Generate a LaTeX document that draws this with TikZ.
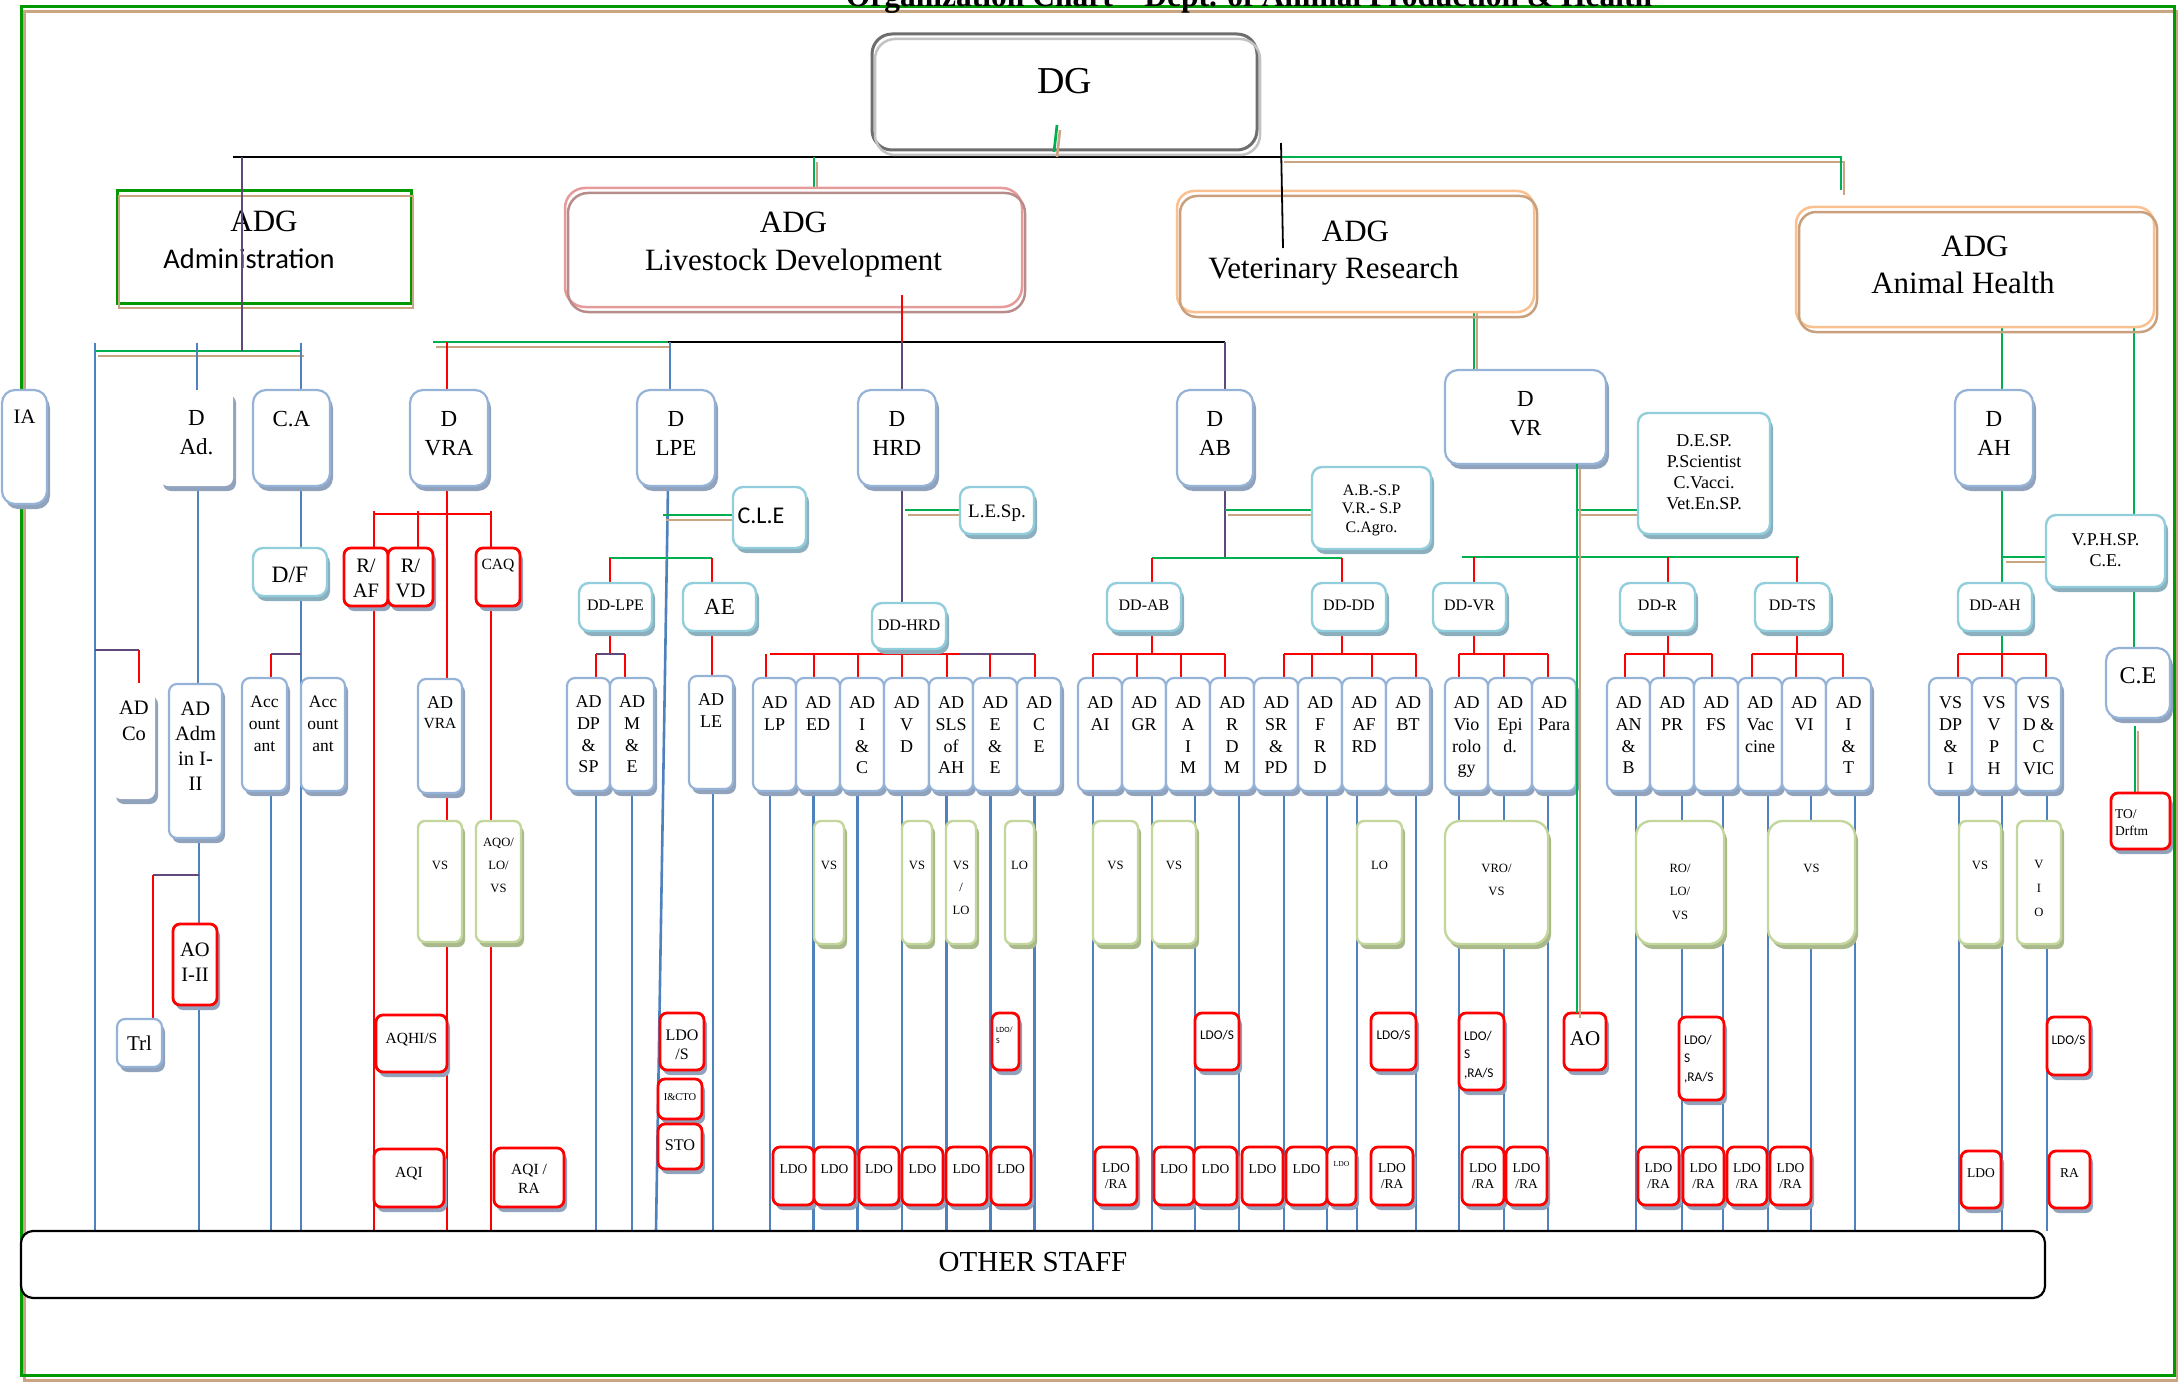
\documentclass[tikz,border=0pt]{standalone}
\usepackage{fontspec}
\setmainfont{Liberation Serif}
\newfontfamily\sansf{Carlito}
\usetikzlibrary{shadows,backgrounds,calc}
\definecolor{bbox}{RGB}{149,179,215}
\definecolor{bsh}{RGB}{145,162,188}
\definecolor{cbox}{RGB}{146,205,220}
\definecolor{csh}{RGB}{140,175,190}
\definecolor{gbox}{RGB}{195,214,155}
\definecolor{gsh}{RGB}{170,185,140}
\definecolor{blin}{RGB}{79,129,189}
\definecolor{plin}{RGB}{96,73,122}
\definecolor{glin}{RGB}{0,176,80}
\definecolor{gfr}{RGB}{0,153,0}
\definecolor{tanc}{RGB}{201,165,130}
\definecolor{pinko}{RGB}{230,155,155}
\definecolor{pinki}{RGB}{185,140,140}
\definecolor{orno}{RGB}{250,192,144}
\definecolor{orni}{RGB}{200,160,125}
\definecolor{dgo}{RGB}{110,110,110}
\definecolor{dgi}{RGB}{195,195,195}
\newcommand\fz[2]{\fontsize{#1}{#2}\selectfont}
\newcommand\Bx[8]{\node[#1,anchor=north west,inner sep=0pt,outer sep=0pt] (#2) at (#3,#4) {\parbox[c][#6pt][t]{#5pt}{\centering\vspace*{#7pt}#8\par}};}
\newcommand\gline[1]{\begin{scope}[transform canvas={shift={(3pt,-5pt)}}]\draw[tl] #1;\end{scope}\draw[gl] #1;}
\tikzset{
 shb/.style={drop shadow={shadow xshift=3pt,shadow yshift=-5pt,fill=bsh,opacity=1}},
 shc/.style={drop shadow={shadow xshift=3pt,shadow yshift=-5pt,fill=csh,opacity=1}},
 shg/.style={drop shadow={shadow xshift=3pt,shadow yshift=-5pt,fill=gsh,opacity=1}},
 bx/.style={draw=bbox,line width=2.2pt,fill=white,rounded corners=8pt,shb},
 dbx/.style={draw=bbox,line width=2.2pt,fill=white,rounded corners=13pt,shb},
 nbx/.style={draw=none,fill=white,rounded corners=8pt,shb},
 cbx/.style={draw=cbox,line width=2.4pt,fill=white,rounded corners=10pt,shc},
 rbx/.style={draw=red,line width=2.8pt,fill=white,rounded corners=7pt,shb},
 gbx/.style={draw=gbox,line width=2.4pt,fill=white,rounded corners=7pt,shg},
 ad/.style={bx,font=\fz{18}{21.7}},
 dd/.style={cbx,font=\fz{16}{19}},
 ld/.style={rbx,font=\fz{13.5}{16}},
 ls/.style={rbx,font=\sansf\fz{13.3}{18.5}},
 gv/.style={gbx,font=\fz{12.6}{23}},
 gvw/.style={gbx,rounded corners=15pt,font=\fz{12.6}{23.5}},
 dgb/.style={draw=dgo,line width=3pt,rounded corners=20pt,fill=white,font=\fz{38}{45}},
 adminb/.style={draw=gfr,line width=3pt,fill=white,font=\fz{31}{37}},
 adglb/.style={draw=pinko,line width=2.5pt,rounded corners=20pt,fill=white,font=\fz{31}{38}},
 adgob/.style={draw=orno,line width=2.5pt,rounded corners=17pt,fill=white,font=\fz{31}{37}},
 ostb/.style={draw=black,line width=2.2pt,rounded corners=12pt,fill=white,font=\fz{29}{34}},
 bl/.style={draw=blin,line width=2.6pt},
 rl/.style={draw=red,line width=2.7pt},
 pl/.style={draw=plin,line width=2.4pt},
 gl/.style={draw=glin,line width=2.7pt},
 tl/.style={draw=tanc,line width=2.6pt},
 kl/.style={draw=black,line width=2.4pt}
}
\begin{document}
\begin{tikzpicture}[x=1pt,y=-1pt]
\useasboundingbox (0,0) rectangle (2178,1383);
\clip (0,0) rectangle (2178,1383);
\node[font=\bfseries\fz{31.5}{32},anchor=base,inner sep=0pt] (title) at (1249,7) {Organization Chart – Dept. of Animal Production \& Health};
% ---------- top level
\Bx{dgb}{dg}{872}{34}{385}{116}{34.5}{DG}
\draw[dgi,line width=2.5pt,rounded corners=20pt] ([shift={(3,5)}]dg.north west) rectangle ([shift={(3,5)}]dg.south east);
\Bx{adminb}{adgad}{117}{191}{294}{112}{20}{ADG\\\hspace*{-30pt}{\sansf\fz{28.5}{37}Administration}}
\draw[tanc,line width=2.5pt] ([shift={(2,5)}]adgad.north west) rectangle ([shift={(2,5)}]adgad.south east);
\Bx{adglb}{adglv}{565}{188}{457}{119}{24}{ADG\\Livestock Development}
\draw[pinki,line width=2.5pt,rounded corners=20pt] ([shift={(3,5)}]adglv.north west) rectangle ([shift={(3,5)}]adglv.south east);
\Bx{adgob}{adgvr}{1177}{191}{357}{121}{30}{ADG\\\hspace*{-44pt}Veterinary Research}
\draw[orni,line width=2.5pt,rounded corners=17pt] ([shift={(3,5)}]adgvr.north west) rectangle ([shift={(3,5)}]adgvr.south east);
\Bx{adgob}{adgah}{1796}{207}{358}{120}{29}{ADG\\\hspace*{-24pt}Animal Health}
\draw[orni,line width=2.5pt,rounded corners=17pt] ([shift={(3,5)}]adgah.north west) rectangle ([shift={(3,5)}]adgah.south east);
% ---------- directors
\Bx{dbx,font=\fz{20.5}{25}}{ia}{2}{390}{45}{114}{20}{IA}
\Bx{nbx,font=\fz{23}{29}}{dad}{160}{390}{73}{96}{20}{D\\Ad.}
\Bx{dbx,font=\fz{23}{29}}{ca}{253}{390}{77}{96}{21}{C.A}
\Bx{dbx,font=\fz{23}{29}}{dvra}{410}{390}{78}{96}{21}{D\\VRA}
\Bx{dbx,font=\fz{23}{29}}{dlpe}{637}{390}{78}{96}{21}{D\\LPE}
\Bx{dbx,font=\fz{23}{29}}{dhrd}{858}{390}{78}{96}{21}{D\\HRD}
\Bx{dbx,font=\fz{23}{29}}{dab}{1177}{390}{76}{96}{21}{D\\AB}
\Bx{dbx,font=\fz{23}{29}}{dvr}{1445}{370}{161}{94}{21}{D\\VR}
\Bx{dbx,font=\fz{23}{29}}{dah}{1955}{390}{78}{96}{21}{D\\AH}
% ---------- cyan boxes
\Bx{cbx,font=\fz{23.5}{28}}{df}{253}{548}{74}{48}{19}{D/F}
\Bx{cbx,font=\sansf\fz{24}{28}}{cle}{733}{487}{73}{61}{21}{\hspace*{-17pt}C.L.E}
\Bx{cbx,font=\fz{19}{22}}{lesp}{960}{487}{74}{47}{17.7}{L.E.Sp.}
\Bx{dd}{ddlpe}{579}{583}{73}{48}{16.7}{DD-LPE}
\Bx{cbx,font=\fz{23}{27}}{ae}{683}{583}{73}{48}{16.4}{AE}
\Bx{dd}{ddhrd}{872}{603}{74}{46}{16.7}{DD-HRD}
\Bx{cbx,font=\fz{16}{18.5}}{absp}{1312}{467}{119}{82}{17.7}{A.B.-S.P\\V.R.- S.P\\C.Agro.}
\Bx{dd}{ddab}{1107}{583}{74}{48}{16.7}{DD-AB}
\Bx{dd}{dddd}{1312}{583}{74}{48}{16.7}{DD-DD}
\Bx{dd}{ddvr}{1433}{583}{73}{48}{16.7}{DD-VR}
\Bx{cbx,font=\fz{18}{21}}{desp}{1638}{413}{132}{121}{22}{D.E.SP.\\P.Scientist\\C.Vacci.\\Vet.En.SP.}
\Bx{dd}{ddr}{1620}{583}{75}{48}{16.7}{DD-R}
\Bx{dd}{ddts}{1755}{583}{75}{48}{16.7}{DD-TS}
\Bx{dd}{ddah}{1958}{583}{74}{48}{16.7}{DD-AH}
\Bx{cbx,font=\fz{18}{21}}{vphsp}{2046}{515}{119}{72}{19}{V.P.H.SP.\\C.E.}
\Bx{dbx,font=\fz{24}{28}}{ce}{2106}{648}{64}{70}{20}{C.E}
% ---------- red upper
\Bx{rbx,font=\fz{20.5}{25}}{raf}{344}{548}{44}{58}{11}{R/\\AF}
\Bx{rbx,font=\fz{20.5}{25}}{rvd}{388}{548}{45}{58}{11}{R/\\VD}
\Bx{rbx,font=\fz{15.6}{19}}{caq}{476}{548}{44}{58}{11}{CAQ}
\Bx{rbx,font=\fz{13.5}{17}}{todr}{2111}{793}{59}{56}{16.5}{\raggedright\leftskip=4pt TO/\\Drftm}
% ---------- AD level
\Bx{nbx,font=\fz{20.5}{26}}{adco}{113}{691}{42}{108}{10}{AD\\Co}
\Bx{bx,font=\fz{20.5}{25}}{adadm}{169}{684}{53}{154}{18}{AD\\Adm\\in I-\\II}
\Bx{bx,font=\fz{17.5}{22}}{acca}{242}{678}{45}{113}{18}{Acc\\ount\\ant}
\Bx{bx,font=\fz{17.5}{22}}{accb}{301}{678}{44}{113}{18}{Acc\\ount\\ant}
\Bx{bx,font=\fz{18}{20}}{advra}{418}{679}{44}{114}{18}{AD\\{\fz{15.5}{20}VRA}}
\Bx{ad}{addp}{567}{678}{43}{113}{18}{AD\\DP\\\&\\SP}
\Bx{ad}{adme}{610}{678}{44}{113}{18}{AD\\M\\\&\\E}
\Bx{ad}{adle}{689}{676}{44}{113}{18}{AD\\LE}
\Bx{ad}{adlp}{753}{678}{43}{113}{19}{AD\\LP}
\Bx{ad}{aded}{796}{678}{44}{113}{19}{AD\\ED}
\Bx{ad}{adic}{840}{678}{44}{113}{19}{AD\\I\\\&\\C}
\Bx{ad}{advd}{884}{678}{45}{113}{19}{AD\\V\\D}
\Bx{ad}{adsls}{929}{678}{44}{113}{19}{AD\\SLS\\of\\AH}
\Bx{ad}{adee}{973}{678}{44}{113}{19}{AD\\E\\\&\\E}
\Bx{ad}{adce}{1017}{678}{44}{113}{19}{AD\\C\\E}
\Bx{ad}{adai}{1078}{678}{44}{113}{19}{AD\\AI}
\Bx{ad}{adgr}{1122}{678}{44}{113}{19}{AD\\GR}
\Bx{ad}{adaim}{1166}{678}{44}{113}{19}{AD\\A\\I\\M}
\Bx{ad}{adrdm}{1210}{678}{44}{113}{19}{AD\\R\\D\\M}
\Bx{ad}{adsrpd}{1254}{678}{44}{113}{19}{AD\\SR\\\&\\PD}
\Bx{ad}{adfrd}{1298}{678}{44}{113}{19}{AD\\F\\R\\D}
\Bx{ad}{adafrd}{1342}{678}{44}{113}{19}{AD\\AF\\RD}
\Bx{ad}{adbt}{1386}{678}{44}{113}{19}{AD\\BT}
\Bx{ad}{advir}{1445}{678}{43}{113}{19}{AD\\Vio\\rolo\\gy}
\Bx{ad}{adepi}{1488}{678}{44}{113}{19}{AD\\Epi\\d.}
\Bx{ad}{adpara}{1532}{678}{44}{113}{19}{AD\\Para}
\Bx{ad}{adanb}{1607}{678}{43}{113}{19}{AD\\AN\\\&\\B}
\Bx{ad}{adpr}{1650}{678}{44}{113}{19}{AD\\PR}
\Bx{ad}{adfs}{1694}{678}{44}{113}{19}{AD\\FS}
\Bx{ad}{advac}{1738}{678}{44}{113}{19}{AD\\Vac\\cine}
\Bx{ad}{advi}{1782}{678}{44}{113}{19}{AD\\VI}
\Bx{ad}{adit}{1826}{678}{45}{113}{19}{AD\\I\\\&\\T}
\Bx{ad}{vsdpi}{1929}{678}{43}{113}{19}{VS\\DP\\\&\\I}
\Bx{ad}{vsvph}{1972}{678}{44}{113}{19}{VS\\V\\P\\H}
\Bx{ad}{vsdcv}{2016}{678}{45}{113}{19}{VS\\D \&\\C\\VIC}
% ---------- green boxes
\Bx{gv}{gvsvra}{418}{821}{44}{121}{40}{VS}
\Bx{gv}{gaqo}{476}{821}{45}{121}{17}{AQO/\\LO/\\VS}
\Bx{gv}{gvsed}{814}{821}{30}{123}{40}{VS}
\Bx{gv}{gvsvd}{902}{821}{30}{123}{40}{VS}
\Bx{gv,font=\fz{12.6}{22.5}}{gvslo}{946}{821}{30}{123}{40}{VS\\/\\LO}
\Bx{gv}{gloee}{1005}{821}{29}{123}{40}{LO}
\Bx{gv}{gvsai}{1093}{821}{45}{123}{40}{VS}
\Bx{gv}{gvsgr}{1152}{821}{44}{123}{40}{VS}
\Bx{gv}{gloaf}{1357}{821}{45}{123}{40}{LO}
\Bx{gvw}{gvro}{1445}{821}{103}{123}{43}{VRO/\\VS}
\Bx{gvw}{grolo}{1636}{821}{88}{123}{43}{RO/\\LO/\\VS}
\Bx{gvw}{gvsts}{1768}{821}{87}{123}{43}{VS}
\Bx{gv}{gvsah}{1959}{821}{42}{123}{40}{VS}
\Bx{gv,font=\fz{12.6}{24}}{gvio}{2017}{821}{44}{123}{39}{V\\I\\O}
% ---------- lower boxes
\Bx{rbx,font=\fz{20.5}{25}}{aoii}{173}{924}{44}{81}{19}{AO\\I-II}
\Bx{bx,font=\fz{21}{25}}{trl}{117}{1019}{45}{48}{17}{Trl}
\Bx{rbx,font=\fz{15.5}{19}}{aqhis}{376}{1015}{71}{57}{18}{AQHI/S}
\Bx{rbx,font=\fz{15.5}{19}}{aqi}{374}{1149}{70}{58}{18}{AQI}
\Bx{rbx,font=\fz{15.5}{19}}{aqira}{494}{1148}{70}{59}{16}{AQI /\\RA}
\Bx{rbx,font=\fz{16}{19}}{ldosl}{660}{1013}{44}{57}{16.7}{LDO\\/S}
\Bx{rbx,font=\fz{10.5}{12}}{icto}{658}{1079}{44}{40}{14.5}{I\&CTO}
\Bx{rbx,font=\fz{16.2}{19}}{sto}{658}{1124}{44}{45}{15.6}{STO}
\Bx{ld}{lh1}{773}{1147}{41}{58}{17.5}{LDO}
\Bx{ld}{lh2}{814}{1147}{41}{58}{17.5}{LDO}
\Bx{ld}{lh3}{859}{1147}{40}{58}{17.5}{LDO}
\Bx{ld}{lh4}{902}{1147}{41}{58}{17.5}{LDO}
\Bx{ld}{lh5}{946}{1147}{41}{58}{17.5}{LDO}
\Bx{ld}{lh6}{991}{1147}{40}{58}{17.5}{LDO}
\Bx{rbx,font=\sansf\fz{8}{11}}{ldost}{992}{1013}{27}{57}{14}{\raggedright\leftskip=4pt LDO/\\S}
\Bx{ls}{ldosa}{1195}{1013}{44}{57}{17}{LDO/S}
\Bx{ls}{ldosb}{1371}{1013}{45}{57}{17}{LDO/S}
\Bx{ls}{ldorv}{1459}{1013}{45}{77}{18}{\raggedright\leftskip=5pt LDO/\\S\\,RA/S}
\Bx{rbx,font=\fz{21}{25}}{aovr}{1564}{1013}{42}{57}{19}{AO}
\Bx{ls}{ldorr}{1679}{1017}{45}{83}{18}{\raggedright\leftskip=5pt LDO/\\S\\,RA/S}
\Bx{ls}{ldosh}{2047}{1017}{43}{58}{18}{LDO/S}
\Bx{ld}{lr1}{1095}{1147}{42}{58}{16.5}{LDO\\/RA}
\Bx{ld}{lr2}{1154}{1147}{40}{58}{17.5}{LDO}
\Bx{ld}{lr3}{1194}{1147}{43}{58}{17.5}{LDO}
\Bx{ld}{lr4}{1242}{1147}{41}{58}{17.5}{LDO}
\Bx{ld}{lr5}{1286}{1147}{41}{58}{17.5}{LDO}
\Bx{rbx,font=\fz{7.6}{9}}{lr6}{1327}{1147}{29}{58}{14.5}{LDO}
\Bx{ld}{lr7}{1371}{1147}{42}{58}{16.5}{LDO\\/RA}
\Bx{ld}{lr8}{1462}{1147}{42}{58}{16.5}{LDO\\/RA}
\Bx{ld}{lr9}{1506}{1147}{41}{58}{16.5}{LDO\\/RA}
\Bx{ld}{lt1}{1638}{1147}{41}{58}{16.5}{LDO\\/RA}
\Bx{ld}{lt2}{1683}{1147}{41}{58}{16.5}{LDO\\/RA}
\Bx{ld}{lt3}{1727}{1147}{40}{58}{16.5}{LDO\\/RA}
\Bx{ld}{lt4}{1770}{1147}{41}{58}{16.5}{LDO\\/RA}
\Bx{ld}{lah}{1961}{1151}{40}{57}{17.5}{LDO}
\Bx{ld}{rah}{2049}{1151}{41}{57}{17.5}{RA}
\Bx{ostb}{other}{21}{1231}{2024}{67}{21.5}{OTHER STAFF}
% ---------- connectors behind
\begin{scope}[on background layer]
\draw[tanc,line width=3pt] (24,12) rectangle (2177,1380);
\draw[gfr,line width=3pt] (21,7) rectangle (2174,1375);
\draw[kl] (233,157) -- (1281,157);
\gline{(1281,157) -- (1841,157) -- (1841,190)}
\gline{(814,157) -- (814,188)}
% admin
\gline{(95,351) -- (301,351)}
\draw[bl] (95,343) -- (other.north -| 95,0);
\draw[bl] (197,343) -- (dad.north -| 197,0);
\draw[bl] (301,343) -- (ca.north -| 301,0);
\draw[bl] (dad.south -| 198,0) -- (adadm.north -| 198,0);
\draw[bl] (adadm.south -| 199,0) -- (other.north -| 199,0);
\draw[pl] (95,650) -- (139,650);
\draw[rl] (139,650) -- (139,683);
\draw[bl] (ca.south -| 301,0) -- (other.north -| 301,0);
\draw[pl] (271,654) -- (301,654);
\draw[rl] (271,654) -- (acca.north -| 271,0);
\draw[bl] (acca.south -| 271,0) -- (other.north -| 271,0);
\draw[pl] (153,875) -- (199,875);
\draw[rl] (153,875) -- (trl.north -| 153,0);
% VRA
\gline{(433,342) -- (668,342)}
\draw[rl] (447,342) -- (dvra.north -| 447,0);
\draw[rl] (dvra.south -| 447,0) -- (advra.north -| 447,0);
\draw[rl] (374,514) -- (491,514);
\draw[rl] (374,511) -- (raf.north -| 374,0);
\draw[rl] (418,511) -- (rvd.north -| 418,0);
\draw[rl] (491,511) -- (caq.north -| 491,0);
\draw[rl] (raf.south -| 374,0) -- (other.north -| 374,0);
\draw[rl] (advra.south -| 447,0) -- (other.north -| 447,0);
\draw[rl] (caq.south -| 491,0) -- (other.north -| 491,0);
% LPE
\draw[kl] (668,342) -- (1225,342);
\draw[bl] (670,342) -- (dlpe.north -| 670,0);
\draw[bl] (dlpe.south -| 668,0) -- (other.north -| 656,0);
\gline{(663,515) -- (cle.west |- 0,515)}
\draw[gl] (609,558) -- (712,558);
\draw[rl] (610,558) -- (ddlpe.north -| 610,0);
\draw[rl] (712,558) -- (ae.north -| 712,0);
\draw[rl] (ddlpe.south -| 610,0) -- (610,654);
\draw[pl] (596,654) -- (625,654);
\draw[rl] (596,654) -- (addp.north -| 596,0);
\draw[rl] (625,654) -- (adme.north -| 625,0);
\draw[rl] (ae.south -| 712,0) -- (adle.north -| 712,0);
% HRD
\draw[pl] (902,342) -- (dhrd.north -| 902,0);
\draw[pl] (dhrd.south -| 902,0) -- (ddhrd.north -| 902,0);
\gline{(905,510) -- (lesp.west |- 0,510)}
\draw[pl] (ddhrd.south -| 902,0) -- (902,654);
\draw[rl] (770,654) -- (960,654);
\draw[pl] (960,654) -- (1035,654);
\foreach \x in {766,814,858,902,947,990,1035} \draw[rl] (\x,654) -- (\x,678);
% AB
\draw[pl] (1225,342) -- (dab.north -| 1225,0);
\draw[pl] (dab.south -| 1225,0) -- (1225,558);
\gline{(1225,510) -- (absp.west |- 0,510)}
\draw[gl] (1152,558) -- (1342,558);
\draw[rl] (1152,558) -- (ddab.north -| 1152,0);
\draw[rl] (1342,558) -- (dddd.north -| 1342,0);
\draw[rl] (ddab.south -| 1152,0) -- (1152,654);
\draw[rl] (1093,654) -- (1225,654);
\foreach \x in {1093,1137,1181,1225} \draw[rl] (\x,654) -- (\x,678);
\draw[rl] (dddd.south -| 1342,0) -- (1342,654);
\draw[rl] (1284,654) -- (1416,654);
\foreach \x in {1284,1312,1372,1416} \draw[rl] (\x,654) -- (\x,678);
% VR
\gline{(1474,307) -- (dvr.north -| 1474,0)}
\gline{(1577,510) -- (desp.west |- 0,510)}
\draw[gl] (1462,557) -- (1799,557);
\draw[rl] (1474,557) -- (ddvr.north -| 1474,0);
\draw[rl] (1668,557) -- (ddr.north -| 1668,0);
\draw[rl] (1797,557) -- (ddts.north -| 1797,0);
\draw[rl] (ddvr.south -| 1474,0) -- (1474,654);
\draw[rl] (1459,654) -- (1548,654);
\foreach \x in {1459,1504,1548} \draw[rl] (\x,654) -- (\x,678);
\draw[rl] (ddr.south -| 1668,0) -- (1668,654);
\draw[rl] (1625,654) -- (1712,654);
\foreach \x in {1625,1664,1712} \draw[rl] (\x,654) -- (\x,678);
\draw[rl] (ddts.south -| 1797,0) -- (1797,654);
\draw[rl] (1752,654) -- (1843,654);
\foreach \x in {1752,1796,1843} \draw[rl] (\x,654) -- (\x,678);
% AH
\draw[gl] (2002,327) -- (dah.north -| 2002,0);
\draw[gl] (dah.south -| 2002,0) -- (ddah.north -| 2002,0);
\gline{(2003,557) -- (vphsp.west |- 0,557)}
\draw[gl] (2134,327) -- (vphsp.north -| 2134,0);
\draw[gl] (vphsp.south -| 2134,0) -- (ce.north -| 2134,0);
\gline{(2135,726) -- (todr.north -| 2135,0)}
\draw[gl] (ddah.south -| 2002,0) -- (2002,654);
\draw[rl] (1958,654) -- (2046,654);
\foreach \x in {1958,2002,2046} \draw[rl] (\x,654) -- (\x,678);
% drops to other staff
\foreach \n/\d in {addp/7.5,adme/0,adle/2,adlp/-4.5,aded/-4.5,adic/-4.5,advd/-4.5,adsls/-4.5,adee/-4.5,adce/-4.5,adai/-7,adgr/8,adaim/7,adrdm/7,adsrpd/8,adfrd/7,adafrd/-7,adbt/8,advir/-7.5,adepi/-6,adpara/-6,adanb/7.5,adpr/10,adfs/7,advac/8,advi/7,adit/6.5,vsdpi/8.5,vsvph/8,vsdcv/8.5}
  \draw[bl] ($(\n.south)+(\d,0)$) -- ($(other.north -| \n.south)+(\d,0)$);
\end{scope}
% ---------- connectors on top
\draw[pl] (242,157) -- (adgad.south -| 242,0) -- (242,351);
\draw[kl,line width=1.8pt] (1281,143) -- (1283,248);
\gline{(1057,125) -- (1054,152)}
\draw[rl] (902,295) -- (902,342);
\gline{(dvr.south -| 1577,0) -- (aovr.north -| 1577,0)}
\end{tikzpicture}
\end{document}
